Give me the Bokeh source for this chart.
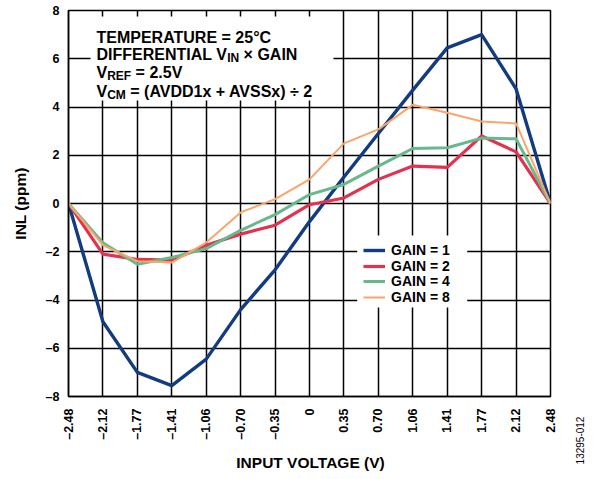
import math
from bokeh.plotting import figure
from bokeh.models import (Range1d, FixedTicker, Label, BoxAnnotation, Legend, LegendItem)
from bokeh.embed import file_html
from bokeh.resources import INLINE

# ---------------- data ----------------
x_labels = ["–2.48", "–2.12", "–1.77", "–1.41", "–1.06", "–0.70", "–0.35", "0",
            "0.35", "0.70", "1.06", "1.41", "1.77", "2.12", "2.48"]
gain1 = [0, -4.9, -7.0, -7.55, -6.45, -4.4, -2.75, -0.75, 1.1, 2.9, 4.7, 6.45, 7.0, 4.75, 0]
gain2 = [0, -2.1, -2.32, -2.35, -1.73, -1.27, -0.9, -0.05, 0.23, 1.0, 1.55, 1.5, 2.8, 2.14, 0]
gain4 = [0, -1.63, -2.52, -2.24, -1.87, -1.11, -0.46, 0.37, 0.79, 1.55, 2.28, 2.31, 2.71, 2.68, 0]
gain8 = [0, -1.73, -2.39, -2.45, -1.62, -0.37, 0.18, 1.0, 2.49, 3.07, 4.09, 3.76, 3.40, 3.32, 0]
series_names = ["GAIN = 1", "GAIN = 2", "GAIN = 4", "GAIN = 8"]
y_ticks = [-8, -6, -4, -2, 0, 2, 4, 6, 8]

x_idx = list(range(len(x_labels)))

# ---------------- geometry (picture pixels) ----------------
W, H = 587, 471
FL, FW, FT, FH = 68, 482, 10, 386
FR, FB = FL + FW, FT + FH
FONT = "Liberation Sans"

def px2x(px):
    return (px - FL) / FW * 14.0

def px2y(py):
    return 8.0 - (py - FT) / FH * 16.0

p = figure(width=W, height=H, x_range=Range1d(0, 14), y_range=Range1d(-8, 8),
           output_backend="svg", toolbar_location=None,
           min_border_left=FL, min_border_right=W - FL - FW,
           min_border_top=FT, min_border_bottom=H - FT - FH)
p.background_fill_color = "white"
p.border_fill_color = "white"
p.outline_line_color = "black"
p.outline_line_width = 1.5

# axes
p.xaxis.ticker = FixedTicker(ticks=x_idx)
p.xaxis.major_label_overrides = {i: lab for i, lab in enumerate(x_labels)}
p.xaxis.major_label_orientation = math.pi / 2
p.yaxis.ticker = FixedTicker(ticks=y_ticks)
p.yaxis.major_label_overrides = {t: (("–" + str(-t)) if t < 0 else str(t)) for t in y_ticks}
for ax in (p.xaxis, p.yaxis):
    ax.major_tick_in = 0
    ax.major_tick_out = 0
    ax.minor_tick_in = 0
    ax.minor_tick_out = 0
    ax.axis_line_color = "black"
    ax.axis_line_width = 1.5
    ax.major_label_text_font = FONT
    ax.major_label_text_font_style = "bold"
    ax.major_label_text_font_size = "12.5px"
    ax.major_label_text_color = "black"
    ax.axis_label_text_font = FONT
    ax.axis_label_text_font_style = "bold"
    ax.axis_label_text_font_size = "15.5px"
    ax.axis_label_text_color = "black"
p.xaxis.major_label_standoff = 12
p.yaxis.major_label_standoff = 9
p.yaxis.axis_label = "INL (ppm)"
p.yaxis.axis_label_standoff = 14

# grid
p.xgrid.ticker = FixedTicker(ticks=x_idx)
p.ygrid.ticker = FixedTicker(ticks=y_ticks)
for g in (p.xgrid, p.ygrid):
    g.grid_line_color = "black"
    g.grid_line_width = 1.5
    g.grid_line_alpha = 1.0

# white boxes behind the annotation text and the legend
p.add_layout(BoxAnnotation(left=px2x(90), right=px2x(333), top=px2y(16), bottom=px2y(100),
                           fill_color="white", fill_alpha=1.0, line_color=None))
p.add_layout(BoxAnnotation(left=px2x(356.7), right=px2x(466.7), top=px2y(235), bottom=px2y(307),
                           fill_color="white", fill_alpha=1.0, line_color=None))

# series
colors = ["#123B80", "#E3324F", "#67B98D", "#FBA46B"]
widths = [3.4, 3.2, 3.0, 2.0]
renderers = []
for ys, c, w in zip([gain1, gain2, gain4, gain8], colors, widths):
    r = p.line(x_idx, ys, line_color=c, line_width=w, line_join="round")
    renderers.append(r)

# legend: one single-row legend per entry, to match the tight row pitch
LEG_FS = 14
ROW_H = LEG_FS * 1.117
row_centers = [250.5, 266.0, 281.5, 297.0]
for name, r, cy in zip(series_names, renderers, row_centers):
    lg = Legend(items=[LegendItem(label=name, renderers=[r])],
                location=(363 - FL, FB - (cy + ROW_H / 2)), orientation="vertical")
    lg.margin = 0
    lg.padding = 0
    lg.spacing = 0
    lg.glyph_width = 22
    lg.glyph_height = 14
    lg.label_height = 14
    lg.label_standoff = 6
    lg.label_text_font = FONT
    lg.label_text_font_style = "bold"
    lg.label_text_font_size = f"{LEG_FS}px"
    lg.label_text_color = "black"
    lg.border_line_color = None
    lg.background_fill_alpha = 0.0
    p.add_layout(lg, "center")

# annotation text with subscripts
AW = {' ': 278, 'T': 611, 'E': 667, 'M': 833, 'P': 667, 'R': 722, 'A': 722, 'U': 722, '=': 584,
      '2': 556, '5': 556, '°': 400, 'C': 722, 'D': 722, 'F': 611, 'N': 722, 'I': 278, 'L': 611,
      'V': 667, '×': 584, 'G': 778, '.': 278, '(': 333, ')': 333, '1': 556, 'x': 556, '+': 584,
      'S': 667, '÷': 584}

def tw(s, size):
    return sum(AW.get(ch, 600) for ch in s) / 1000.0 * size

MAIN, SUB = 16, 12
lines = [
    (36.7, [("TEMPERATURE = 25°C", False)]),
    (54.3, [("DIFFERENTIAL V", False), ("IN", True), (" × GAIN", False)]),
    (72.0, [("V", False), ("REF", True), (" = 2.5V", False)]),
    (91.0, [("V", False), ("CM", True), (" = (AVDD1x + AVSSx) ÷ 2", False)]),
]
for base, pieces in lines:
    xpos = 96.0
    for txt, sub in pieces:
        size = SUB if sub else MAIN
        yb = base + (3.5 if sub else 0)
        lead = len(txt) - len(txt.lstrip(" "))
        xpos += tw(" " * lead, size)
        body = txt.lstrip(" ")
        p.add_layout(Label(x=px2x(xpos), y=px2y(yb), text=body, text_font=FONT,
                           text_font_style="bold", text_font_size=f"{size}px",
                           text_baseline="alphabetic", text_align="left", text_color="black"))
        xpos += tw(body, size)

# x-axis title in its own panel below the tick labels (panel bottom is about 63px below the frame)
XPANEL_BOTTOM = FB + 63
p.add_layout(Label(x=310 - FL, y=XPANEL_BOTTOM - 462, x_units="screen", y_units="screen",
                   text="INPUT VOLTAGE (V)", text_font=FONT, text_font_style="bold",
                   text_font_size="15.5px", text_align="center", text_baseline="middle",
                   text_color="black"), "below")
# figure id in the right margin panel
p.add_layout(Label(x=579 - FR, y=FB - 440, x_units="screen", y_units="screen",
                   text="13295-012", angle=math.pi / 2,
                   text_font=FONT, text_font_size="10px", text_align="center",
                   text_baseline="middle", text_color="black"), "right")

open("out.html", "w").write(file_html(p, INLINE))
